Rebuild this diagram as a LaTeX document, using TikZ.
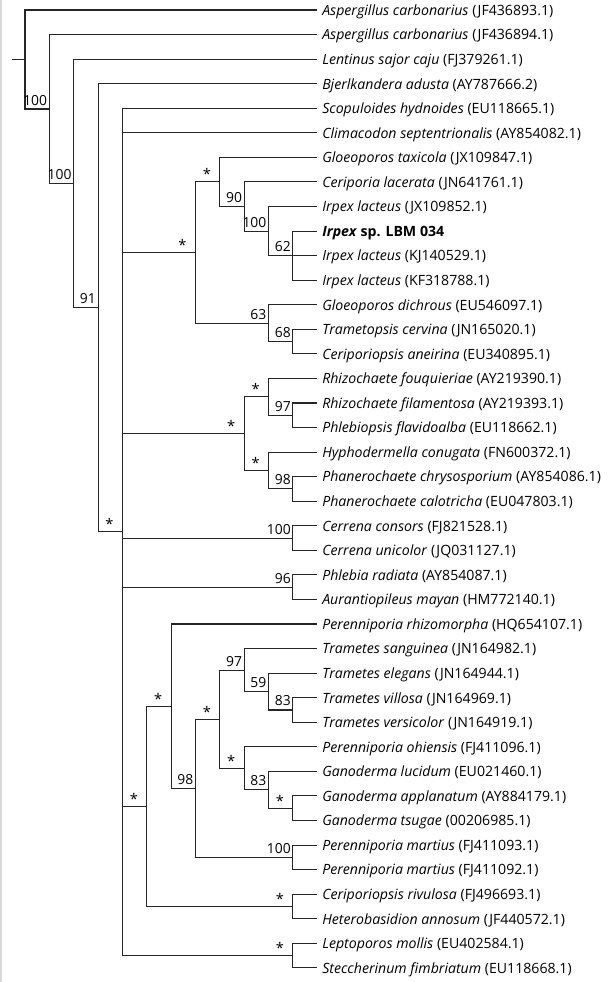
\documentclass[tikz,border=0pt]{standalone}
\usepackage{fontspec}
\setmainfont{Open Sans}
\usepackage{tikz}
\tikzset{
	leafstyle/.style={anchor=west,inner xsep=3.5pt,inner ysep=1pt,text height=8pt,text depth=0pt,font=\fontsize{10.6}{12}\selectfont\itshape},
	supstyle/.style={anchor=south east,inner xsep=1.5pt,inner ysep=2.8pt,text height=7.5pt,text depth=0pt,font=\fontsize{10.4}{12}\selectfont},
	starstyle/.style={supstyle,xshift=-5pt,yshift=-1.5pt,font=\fontsize{11}{12}\selectfont},
	branchstyle/.style={draw=black!85,line width=0.8pt}
}

\begin{document}
\begin{tikzpicture}[x=18.27pt,y=-18.42pt]
		\useasboundingbox (-1.02627,-0.40717) rectangle (23.9327,39.5765);
		\draw[black!15,line width=0.8pt] (-0.985,-0.40717) -- (-0.985,39.5765);
		% leaves
		\node[leafstyle] (asp1) at (12,0) {Aspergillus carbonarius \textup{(JF436893.1)}};
		\node[leafstyle] (asp2) at (12,1) {Aspergillus carbonarius \textup{(JF436894.1)}};
		\node[leafstyle] (lent) at (12,2) {Lentinus sajor caju \textup{(FJ379261.1)}};
		\node[leafstyle] (bjer) at (12,3) {Bjerlkandera adusta \textup{(AY787666.2)}};
		\node[leafstyle] (scop) at (12,4) {Scopuloides hydnoides \textup{(EU118665.1)}};
		\node[leafstyle] (clim) at (12,5) {Climacodon septentrionalis \textup{(AY854082.1)}};
		\node[leafstyle] (glta) at (12,6) {Gloeoporos taxicola \textup{(JX109847.1)}};
		\node[leafstyle] (cerl) at (12,7) {Ceriporia lacerata \textup{(JN641761.1)}};
		\node[leafstyle] (irp1) at (12,8) {Irpex lacteus \textup{(JX109852.1)}};
		\node[leafstyle] (irpsp) at (12,9) {\textbf{Irpex \textup{sp. LBM 034}}};
		\node[leafstyle] (irp2) at (12,10) {Irpex lacteus \textup{(KJ140529.1)}};
		\node[leafstyle] (irp3) at (12,11) {Irpex lacteus \textup{(KF318788.1)}};
		\node[leafstyle] (glod) at (12,12) {Gloeoporos dichrous \textup{(EU546097.1)}};
		\node[leafstyle] (trce) at (12,13) {Trametopsis cervina \textup{(JN165020.1)}};
		\node[leafstyle] (cean) at (12,14) {Ceriporiopsis aneirina \textup{(EU340895.1)}};
		\node[leafstyle] (rhfo) at (12,15) {Rhizochaete fouquieriae \textup{(AY219390.1)}};
		\node[leafstyle] (rhfi) at (12,16) {Rhizochaete filamentosa \textup{(AY219393.1)}};
		\node[leafstyle] (phfl) at (12,17) {Phlebiopsis flavidoalba \textup{(EU118662.1)}};
		\node[leafstyle] (hyco) at (12,18) {Hyphodermella conugata \textup{(FN600372.1)}};
		\node[leafstyle] (phch) at (12,19) {Phanerochaete chrysosporium \textup{(AY854086.1)}};
		\node[leafstyle] (phca) at (12,20) {Phanerochaete calotricha \textup{(EU047803.1)}};
		\node[leafstyle] (ceco) at (12,21) {Cerrena consors \textup{(FJ821528.1)}};
		\node[leafstyle] (ceun) at (12,22) {Cerrena unicolor \textup{(JQ031127.1)}};
		\node[leafstyle] (phra) at (12,23) {Phlebia radiata \textup{(AY854087.1)}};
		\node[leafstyle] (auma) at (12,24) {Aurantiopileus mayan \textup{(HM772140.1)}};
		\node[leafstyle] (perh) at (12,25) {Perenniporia rhizomorpha \textup{(HQ654107.1)}};
		\node[leafstyle] (trsa) at (12,26) {Trametes sanguinea \textup{(JN164982.1)}};
		\node[leafstyle] (trel) at (12,27) {Trametes elegans \textup{(JN164944.1)}};
		\node[leafstyle] (trvi) at (12,28) {Trametes villosa \textup{(JN164969.1)}};
		\node[leafstyle] (trve) at (12,29) {Trametes versicolor \textup{(JN164919.1)}};
		\node[leafstyle] (peoh) at (12,30) {Perenniporia ohiensis \textup{(FJ411096.1)}};
		\node[leafstyle] (galu) at (12,31) {Ganoderma lucidum \textup{(EU021460.1)}};
		\node[leafstyle] (gaap) at (12,32) {Ganoderma applanatum \textup{(AY884179.1)}};
		\node[leafstyle] (gats) at (12,33) {Ganoderma tsugae \textup{(00206985.1)}};
		\node[leafstyle] (pem1) at (12,34) {Perenniporia martius \textup{(FJ411093.1)}};
		\node[leafstyle] (pem2) at (12,35) {Perenniporia martius \textup{(FJ411092.1)}};
		\node[leafstyle] (ceri) at (12,36) {Ceriporiopsis rivulosa \textup{(FJ496693.1)}};
		\node[leafstyle] (heta) at (12,37) {Heterobasidion annosum \textup{(JF440572.1)}};
		\node[leafstyle] (lemo) at (12,38) {Leptoporos mollis \textup{(EU402584.1)}};
		\node[leafstyle] (stfi) at (12,39) {Steccherinum fimbriatum \textup{(EU118668.1)}};
		% internal nodes
		\coordinate (stub) at (-0.534,2.015625);
		\coordinate (n0) at (0,2.015625);
		\coordinate (n1) at (1,4.03125);
		\coordinate (n2) at (2,7.0625);
		\coordinate (n3) at (3,12.125);
		\coordinate (n4) at (4,21.25);
		\coordinate (n7a) at (7,9.875);
		\coordinate (n8a) at (8,7);
		\coordinate (n9a) at (9,8);
		\coordinate (n10a) at (10,9);
		\coordinate (n11a) at (11,10);
		\coordinate (n10b) at (10,12.75);
		\coordinate (n11b) at (11,13.5);
		\coordinate (n9c) at (9,17.25);
		\coordinate (n10c) at (10,15.75);
		\coordinate (n11c) at (11,16.5);
		\coordinate (n10d) at (10,18.75);
		\coordinate (n11d) at (11,19.5);
		\coordinate (n11e) at (11,21.5);
		\coordinate (n11f) at (11,23.5);
		\coordinate (n5) at (5,32.421875);
		\coordinate (n6) at (6,28.34375);
		\coordinate (n7g) at (7,31.6875);
		\coordinate (n8g) at (8,28.875);
		\coordinate (n9g) at (9,26.875);
		\coordinate (n10g) at (10,27.75);
		\coordinate (n11g) at (11,28.5);
		\coordinate (n9h) at (9,30.875);
		\coordinate (n10h) at (10,31.75);
		\coordinate (n11h) at (11,32.5);
		\coordinate (n11i) at (11,34.5);
		\coordinate (n11j) at (11,36.5);
		\coordinate (n11k) at (11,38.5);
		% branches
		\draw[branchstyle] (stub)--(n0);
		\draw[branchstyle] (n0)|-(asp1.west) (n0)|-(n1);
		\draw[branchstyle] (n1)|-(asp2.west) (n1)|-(n2);
		\draw[branchstyle] (n2)|-(lent.west) (n2)|-(n3);
		\draw[branchstyle] (n3)|-(bjer.west) (n3)|-(n4);
		\draw[branchstyle] (n4)|-(scop.west) (n4)|-(clim.west) (n4)|-(n7a) (n4)|-(n9c);
		\draw[branchstyle] (n4)|-(n11e) (n4)|-(n11f) (n4)|-(n5) (n4)|-(n11k);
		\draw[branchstyle] (n7a)|-(n8a) (n7a)|-(n10b);
		\draw[branchstyle] (n8a)|-(glta.west) (n8a)|-(n9a);
		\draw[branchstyle] (n9a)|-(cerl.west) (n9a)|-(n10a);
		\draw[branchstyle] (n10a)|-(irp1.west) (n10a)|-(n11a);
		\draw[branchstyle] (n11a)|-(irpsp.west) (n11a)|-(irp2.west) (n11a)|-(irp3.west);
		\draw[branchstyle] (n10b)|-(glod.west) (n10b)|-(n11b);
		\draw[branchstyle] (n11b)|-(trce.west) (n11b)|-(cean.west);
		\draw[branchstyle] (n9c)|-(n10c) (n9c)|-(n10d);
		\draw[branchstyle] (n10c)|-(rhfo.west) (n10c)|-(n11c);
		\draw[branchstyle] (n11c)|-(rhfi.west) (n11c)|-(phfl.west);
		\draw[branchstyle] (n10d)|-(hyco.west) (n10d)|-(n11d);
		\draw[branchstyle] (n11d)|-(phch.west) (n11d)|-(phca.west);
		\draw[branchstyle] (n11e)|-(ceco.west) (n11e)|-(ceun.west);
		\draw[branchstyle] (n11f)|-(phra.west) (n11f)|-(auma.west);
		\draw[branchstyle] (n5)|-(n6) (n5)|-(n11j);
		\draw[branchstyle] (n6)|-(perh.west) (n6)|-(n7g);
		\draw[branchstyle] (n7g)|-(n8g) (n7g)|-(n11i);
		\draw[branchstyle] (n8g)|-(n9g) (n8g)|-(n9h);
		\draw[branchstyle] (n9g)|-(trsa.west) (n9g)|-(n10g);
		\draw[branchstyle] (n10g)|-(trel.west) (n10g)|-(n11g);
		\draw[branchstyle] (n11g)|-(trvi.west) (n11g)|-(trve.west);
		\draw[branchstyle] (n9h)|-(peoh.west) (n9h)|-(n10h);
		\draw[branchstyle] (n10h)|-(galu.west) (n10h)|-(n11h);
		\draw[branchstyle] (n11h)|-(gaap.west) (n11h)|-(gats.west);
		\draw[branchstyle] (n11i)|-(pem1.west) (n11i)|-(pem2.west);
		\draw[branchstyle] (n11j)|-(ceri.west) (n11j)|-(heta.west);
		\draw[branchstyle] (n11k)|-(lemo.west) (n11k)|-(stfi.west);
		% support values
		\node[supstyle] (b1) at (n1) {100};
		\node[supstyle] (b2) at (n2) {100};
		\node[supstyle] (b3) at (n3) {91};
		\node[starstyle] (b4) at (n4) {*};
		\node[starstyle] (b7a) at (n7a) {*};
		\node[starstyle] (b8a) at (n8a) {*};
		\node[supstyle] (b9a) at (n9a) {90};
		\node[supstyle] (b10a) at (n10a) {100};
		\node[supstyle] (b11a) at (n11a) {62};
		\node[supstyle] (b10b) at (n10b) {63};
		\node[supstyle] (b11b) at (n11b) {68};
		\node[starstyle] (b9c) at (n9c) {*};
		\node[starstyle] (b10c) at (n10c) {*};
		\node[supstyle] (b11c) at (n11c) {97};
		\node[starstyle] (b10d) at (n10d) {*};
		\node[supstyle] (b11d) at (n11d) {98};
		\node[supstyle] (b11e) at (n11e) {100};
		\node[supstyle] (b11f) at (n11f) {96};
		\node[starstyle] (b5) at (n5) {*};
		\node[starstyle] (b6) at (n6) {*};
		\node[supstyle] (b7g) at (n7g) {98};
		\node[starstyle] (b8g) at (n8g) {*};
		\node[supstyle] (b9g) at (n9g) {97};
		\node[supstyle] (b10g) at (n10g) {59};
		\node[supstyle] (b11g) at (n11g) {83};
		\node[starstyle] (b9h) at (n9h) {*};
		\node[supstyle] (b10h) at (n10h) {83};
		\node[starstyle] (b11h) at (n11h) {*};
		\node[supstyle] (b11i) at (n11i) {100};
		\node[starstyle] (b11j) at (n11j) {*};
		\node[starstyle] (b11k) at (n11k) {*};
		\end{tikzpicture}
\end{document}
